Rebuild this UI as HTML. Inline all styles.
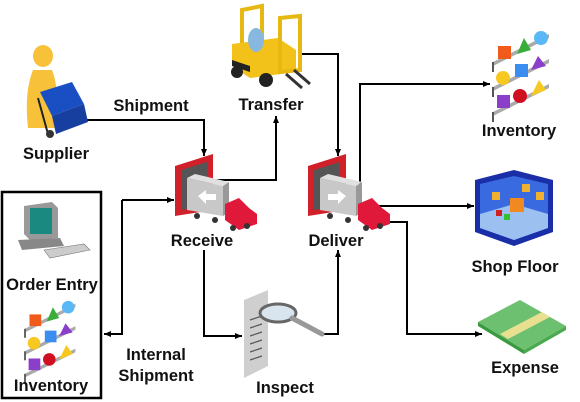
<!DOCTYPE html>
<html><head><meta charset="utf-8"><style>
html,body{margin:0;padding:0;background:#fff;}
svg{display:block}
text{font-family:"Liberation Sans",Arial,sans-serif;font-weight:bold;fill:#111;font-size:16.5px}
</style></head><body>
<svg width="580" height="402" viewBox="0 0 580 402" xmlns="http://www.w3.org/2000/svg">
<defs>
<marker id="a" markerWidth="8" markerHeight="8" refX="7" refY="4" orient="auto" markerUnits="userSpaceOnUse">
<path d="M0,1 L7,4 L0,7 Z" fill="#000"/></marker>
<g id="inv">
 <path d="M0,30 L56,2 L56,6 L0,34 Z" fill="#aaa"/>
 <path d="M0,55 L56,27 L56,31 L0,59 Z" fill="#aaa"/>
 <path d="M0,80 L56,52 L56,56 L0,84 Z" fill="#aaa"/>
 <rect x="5" y="14" width="13" height="13" fill="#f05a1a"/>
 <path d="M24,22 L31,6 L38,18 Z" fill="#3aad3a"/>
 <circle cx="48" cy="6" r="7" fill="#59b8f5"/>
 <circle cx="10" cy="46" r="7" fill="#f7c920"/>
 <rect x="22" y="32" width="13" height="13" fill="#3b8ef0"/>
 <path d="M38,38 L45,24 L53,34 Z" fill="#8a3ec9"/>
 <rect x="4" y="63" width="13" height="13" fill="#8a3ec9"/>
 <circle cx="27" cy="64" r="7" fill="#d01020"/>
 <path d="M38,64 L46,48 L53,58 Z" fill="#f7c920"/>
 <path d="M0,30 L0,40" stroke="#555" stroke-width="2"/>
 <path d="M0,55 L0,65" stroke="#555" stroke-width="2"/>
 <path d="M0,80 L0,90" stroke="#555" stroke-width="2"/>
</g>
<g id="dock">
 <path d="M0,12 L38,0 L38,56 L0,62 Z" fill="#d0202a"/>
 <path d="M6,16 L32,8 L32,52 L6,56 Z" fill="#555"/>
 <path d="M12,24 L48,32 L48,62 L12,56 Z" fill="#c8c8c8"/>
 <path d="M12,24 L20,20 L54,28 L48,32 Z" fill="#e0e0e0"/>
 <path d="M48,32 L54,28 L54,58 L48,62 Z" fill="#999"/>
 <path d="M50,50 L64,44 L74,54 L82,60 L82,70 L64,76 L50,66 Z" fill="#e0183a"/>
 <circle cx="22" cy="62" r="3" fill="#333"/><circle cx="40" cy="66" r="3" fill="#333"/>
 <circle cx="58" cy="74" r="3" fill="#333"/><circle cx="72" cy="72" r="3" fill="#333"/>
</g>
</defs>

<rect x="2" y="192" width="99" height="206" fill="none" stroke="#000" stroke-width="2.5"/>

<g fill="none" stroke="#000" stroke-width="2">
 <path d="M85,120 H204 V156" marker-end="url(#a)"/>
 <path d="M216,180 H276 V116" marker-end="url(#a)"/>
 <path d="M302,54 H338 V156" marker-end="url(#a)"/>
 <path d="M360,200 V84 H490" marker-end="url(#a)"/>
 <path d="M378,206 H474" marker-end="url(#a)"/>
 <path d="M390,222 H407 V334 H482" marker-end="url(#a)"/>
 <path d="M322,334 H338 V250" marker-end="url(#a)"/>
 <path d="M204,250 V336 H242" marker-end="url(#a)"/>
 <path d="M122,200 H174" marker-end="url(#a)"/>
 <path d="M122,200 V334 H104" marker-end="url(#a)"/>
</g>

<ellipse cx="43" cy="56" rx="10" ry="11" fill="#f7c23a"/>
<path d="M28,128 Q24,92 33,70 L52,70 Q60,90 56,128 Z" fill="#f7c23a"/>
<path d="M40,92 L72,82 L84,104 L52,116 Z" fill="#1a4fc4"/>
<path d="M52,116 L84,104 L88,122 L56,134 Z" fill="#163fa0"/>
<path d="M38,98 L48,134" stroke="#222" stroke-width="2"/>
<circle cx="50" cy="134" r="4" fill="#333"/>
<text x="56" y="159" text-anchor="middle" font-size="17.5">Supplier</text>
<text x="151" y="111" text-anchor="middle">Shipment</text>

<path d="M242,10 L262,6 L262,60 L242,64 Z" fill="none" stroke="#e8b812" stroke-width="4"/>
<path d="M232,44 L278,38 L296,50 L296,72 L250,78 L232,66 Z" fill="#f2c21a"/>
<path d="M232,60 L250,66 L250,72 L232,66 Z" fill="#222"/>
<ellipse cx="256" cy="40" rx="8" ry="12" fill="#88b8e0"/>
<path d="M280,18 L300,16 L300,70 L280,72 Z" fill="none" stroke="#e8b812" stroke-width="4"/>
<circle cx="237" cy="72" r="6" fill="#222"/><circle cx="266" cy="80" r="7" fill="#222"/>
<path d="M286,74 L302,88 M294,70 L310,84" stroke="#333" stroke-width="3"/>
<text x="271" y="110" text-anchor="middle">Transfer</text>

<use href="#dock" x="175" y="154"/>
<path d="M198,196 L206,190 L206,194 L216,194 L216,200 L206,200 L206,204 Z" fill="#fff"/>
<text x="202" y="246" text-anchor="middle">Receive</text>
<use href="#dock" x="308" y="154"/>
<path d="M346,196 L338,190 L338,194 L328,194 L328,200 L338,200 L338,204 Z" fill="#fff"/>
<text x="336" y="246" text-anchor="middle">Deliver</text>

<path d="M244,300 L268,290 L268,366 L244,378 Z" fill="#cfcfcf"/>
<g stroke="#555" stroke-width="1.2">
<path d="M250,320 L262,316 M250,328 L262,324 M250,336 L262,332 M250,344 L262,340 M250,352 L262,348 M250,360 L262,356"/>
</g>
<ellipse cx="278" cy="313" rx="18" ry="9" fill="#d8e4ee" stroke="#666" stroke-width="3"/>
<path d="M292,318 L322,334" stroke="#999" stroke-width="5" stroke-linecap="round"/>
<text x="285" y="393" text-anchor="middle">Inspect</text>

<use href="#inv" x="493" y="32"/>
<text x="519" y="136" text-anchor="middle">Inventory</text>

<path d="M475,180 L514,170 L553,180 L553,232 L514,246 L475,232 Z" fill="#1a2ea8"/>
<path d="M480,184 L514,176 L548,184 L548,228 L514,240 L480,228 Z" fill="#3a6ae0"/>
<path d="M480,214 L514,204 L548,214 L548,228 L514,240 L480,228 Z" fill="#9cc0f0"/>
<rect x="492" y="192" width="8" height="8" fill="#f0b030"/><rect x="522" y="184" width="8" height="8" fill="#f0b030"/><rect x="536" y="192" width="8" height="8" fill="#f0b030"/>
<rect x="510" y="198" width="14" height="14" fill="#f08a20"/>
<rect x="496" y="210" width="6" height="6" fill="#d02020"/><rect x="504" y="214" width="6" height="6" fill="#30c030"/>
<text x="515" y="272" text-anchor="middle">Shop Floor</text>

<path d="M478,322 L520,300 L566,326 L524,350 Z" fill="#6cc070"/>
<path d="M478,322 L524,350 L524,354 L478,326 Z" fill="#3a9a40"/>
<path d="M524,350 L566,326 L566,330 L524,354 Z" fill="#4aaa50"/>
<path d="M500,334 L542,312 L550,317 L508,339 Z" fill="#e8e090"/>
<text x="525" y="373" text-anchor="middle">Expense</text>

<path d="M24,206 L52,202 L58,208 L58,238 L30,240 L24,234 Z" fill="#999"/>
<rect x="30" y="208" width="22" height="26" fill="#1a8a80"/>
<path d="M18,240 L60,238 L64,246 L22,250 Z" fill="#888"/>
<path d="M44,250 L84,244 L90,250 L50,258 Z" fill="#ccc" stroke="#777" stroke-width="0.6"/>
<text x="52" y="290" text-anchor="middle" font-size="15">Order Entry</text>
<use href="#inv" x="25" y="302" transform="translate(2.5,30) scale(0.9)"/>
<text x="51" y="391" text-anchor="middle" font-size="15">Inventory</text>
<text x="156" y="360" text-anchor="middle">Internal</text>
<text x="156" y="381" text-anchor="middle">Shipment</text>
</svg>
</body></html>
